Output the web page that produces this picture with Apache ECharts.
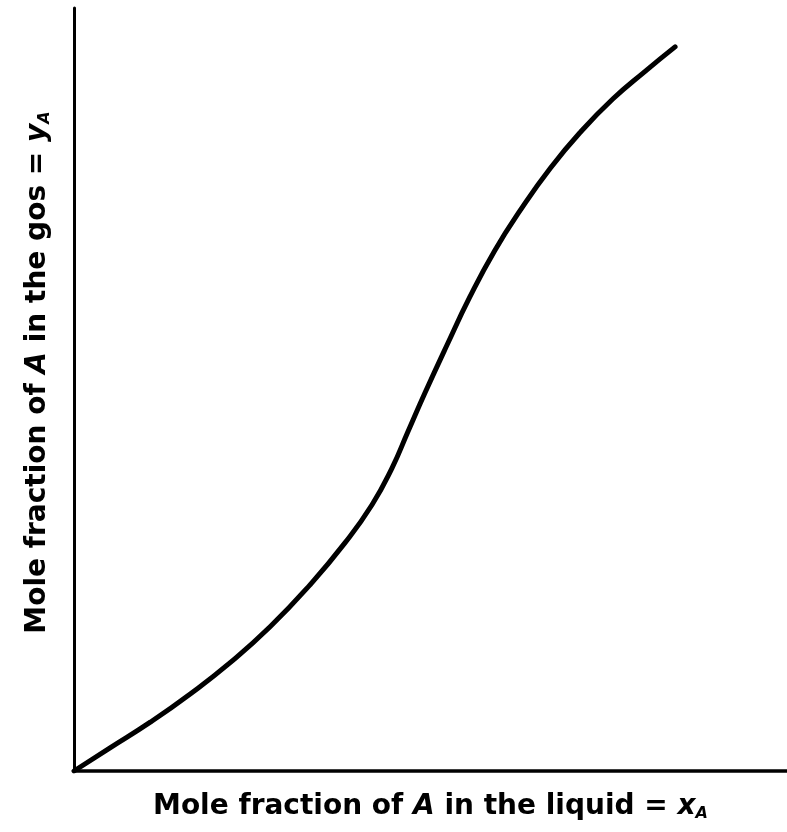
<!DOCTYPE html>
<html>
<head>
<meta charset="utf-8">
<title>Equilibrium curve</title>
<script src="https://cdn.jsdelivr.net/npm/echarts@6/dist/echarts.min.js"></script>
<style>
  html, body { margin: 0; padding: 0; background: #fff; }
  #chart { width: 787px; height: 832px; }
</style>
</head>
<body>
<div id="chart"></div>
<script>
// mole fraction in liquid (x) and in gas (y)
var xLiquid = [0, 0.050, 0.107, 0.163, 0.219, 0.275, 0.331, 0.380, 0.418, 0.446, 0.468, 0.492, 0.523, 0.555, 0.590, 0.626, 0.668, 0.710, 0.756, 0.801, 0.843];
var yGas    = [0, 0.030, 0.064, 0.101, 0.142, 0.189, 0.244, 0.299, 0.349, 0.397, 0.444, 0.495, 0.558, 0.621, 0.682, 0.735, 0.790, 0.837, 0.881, 0.917, 0.949];

var xName = 'Mole fraction of {i|A} in the liquid = {i|x}{sub|A}';
var yName = 'Mole fraction of {i|A} in the gos = {i|y}{sub|A}';

var pts = [];
for (var k = 0; k < xLiquid.length; k++) {
  pts.push([xLiquid[k], yGas[k]]);
}

var fontSize = 28;
var labelFont = {
  fontFamily: 'DejaVu Sans',
  fontWeight: 'bold',
  fontSize: fontSize,
  color: '#000'
};
var rich = {
  i: { fontFamily: 'DejaVu Sans', fontWeight: 'bold', fontStyle: 'italic', fontSize: fontSize, color: '#000' },
  sub: { fontFamily: 'DejaVu Sans', fontWeight: 'bold', fontStyle: 'italic', fontSize: 16, color: '#000', verticalAlign: 'bottom', padding: [14, 0, 0, 0] }
};

var chart = echarts.init(document.getElementById('chart'));
chart.setOption({
  animation: false,
  backgroundColor: '#fff',
  grid: { left: 74, right: 0, top: 8, bottom: 61 },
  xAxis: {
    type: 'value', min: 0, max: 1,
    name: xName,
    nameLocation: 'middle',
    nameGap: 21,
    nameTextStyle: Object.assign({ rich: rich }, labelFont),
    axisLine: { show: true, lineStyle: { color: '#000', width: 3.5 } },
    axisTick: { show: false },
    axisLabel: { show: false },
    splitLine: { show: false }
  },
  yAxis: {
    type: 'value', min: 0, max: 1,
    name: yName,
    nameLocation: 'middle',
    nameGap: 21,
    nameTextStyle: Object.assign({ rich: rich, padding: [0, 0, 0, 34] }, labelFont),
    axisLine: { show: true, lineStyle: { color: '#000', width: 3 } },
    axisTick: { show: false },
    axisLabel: { show: false },
    splitLine: { show: false }
  },
  series: [{
    type: 'line',
    data: pts,
    smooth: 0.5,
    showSymbol: false,
    lineStyle: { color: '#000', width: 5, cap: 'round' }
  }]
});
</script>
</body>
</html>
